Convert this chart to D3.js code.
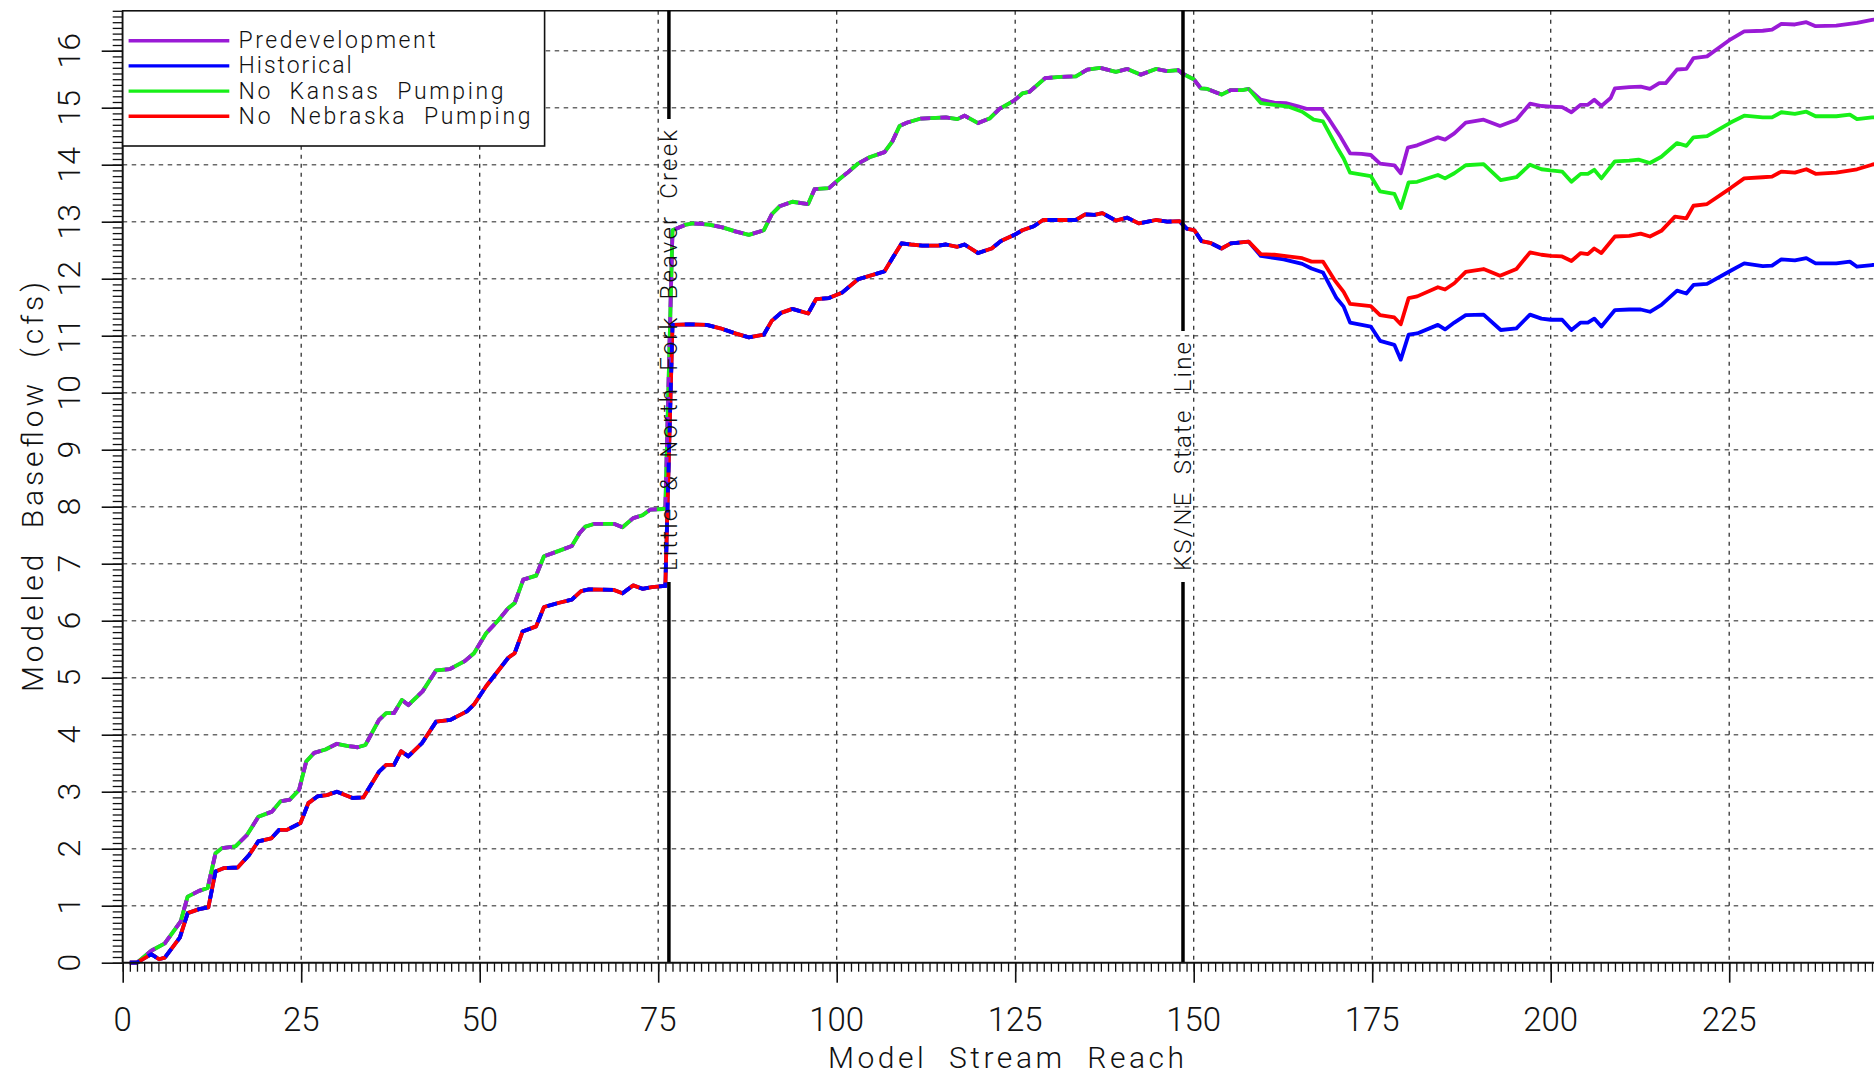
<!DOCTYPE html>
<html><head><meta charset="utf-8">
<script src="https://cdn.jsdelivr.net/npm/d3@7"></script>
<style>
body{margin:0;background:#fff}
svg{display:block}
text{font-family:Roboto,"DejaVu Sans",sans-serif;font-weight:300;fill:#111;white-space:pre}
</style>
</head><body>
<svg id="chart" width="1874" height="1076"></svg>
<script>
// ---------------- data ----------------
const seriesNames  = ["Predevelopment", "Historical", "No  Kansas  Pumping", "No  Nebraska  Pumping"];
const seriesColors = ["#9a1ad6", "#0000ff", "#18f018", "#ff0000"];
const xTickValues  = [0, 25, 50, 75, 100, 125, 150, 175, 200, 225];
const yTickValues  = [0, 1, 2, 3, 4, 5, 6, 7, 8, 9, 10, 11, 12, 13, 14, 15, 16];
const markerReaches = [76.5, 148.5];
const markerLabels  = ["Little  &  North  Fork  Beaver  Creek", "KS/NE  State  Line"];

// upstream reaches where Predevelopment == No Kansas Pumping
const upperSharedX = [1,2,4,5.9,8.1,9.1,10.7,11.9,13,13.9,15.8,17.4,19,20.9,22.1,23.4,24.7,25.7,26.8,28.4,30,31.6,32.9,34,35.9,36.9,38,39.1,40,42,43.9,45.8,47.9,49.2,50.9,52.7,54,54.9,56.1,57.9,59,61,62.9,64,64.8,66.1,68.8,70,71.5,72.8,73.9,75.7,76,77,78.9,79.9,82.1,84,85.8,87.7,89.8,90.9,92,93.8,96,96.9,98.9,100.3,101.6,103,104.6,106.7,107.8,108.8,109.9,111.8,115.3,116.9,117.9,119.8,121.4,122.8,124.9,126,127,129.2,131.3,133.5,135.1,136.9,139.1,140.7,142.6,144.7,146.3,147.8,148.4,150,151,151.9,153.9,155.2,156.8,157.7];
const upperSharedY = [0,0,0.21,0.34,0.72,1.16,1.26,1.31,1.92,2.01,2.04,2.24,2.56,2.65,2.83,2.86,3.03,3.53,3.68,3.74,3.84,3.8,3.78,3.82,4.26,4.38,4.38,4.61,4.52,4.76,5.13,5.15,5.29,5.43,5.78,6.02,6.22,6.31,6.72,6.79,7.13,7.22,7.31,7.54,7.65,7.7,7.7,7.64,7.8,7.85,7.95,7.96,7.97,12.85,12.95,12.97,12.95,12.9,12.83,12.77,12.85,13.13,13.27,13.35,13.31,13.57,13.59,13.74,13.87,14.02,14.13,14.22,14.41,14.68,14.74,14.81,14.83,14.8,14.86,14.73,14.81,14.98,15.13,15.25,15.28,15.52,15.54,15.55,15.67,15.7,15.63,15.68,15.58,15.68,15.64,15.66,15.6,15.5,15.34,15.33,15.23,15.31,15.31,15.33];

// upstream reaches where Historical == No Nebraska Pumping
const lowerSharedX = [1,2,4,5.1,5.9,8,9.1,10.7,12,13,14.2,16.1,17.7,19,20.8,21.9,23,24.9,26,27.3,28.6,30,32.2,33.7,35.9,36.9,38,39,40,41.9,43.9,45.9,48.2,49.2,50.9,52.7,54,54.9,56,57.9,59,61,62.9,64.2,65.3,68.8,70,71.5,72.8,74.1,76,77,79.4,81.8,83.7,85.8,87.7,89.8,90.9,92.2,93.8,96,97.1,98.9,100.8,103,104.6,106.7,107.8,109.1,110.4,112,114.2,115.3,116.9,117.9,119.8,121.7,123,124.9,126,127.6,128.9,131.3,133.5,134.8,136.1,137.2,139.1,140.7,142.3,144.7,146.3,148,149,150.1,151.1,152.3,153.9,155.2,157.7];
const lowerSharedY = [0,0,0.15,0.06,0.09,0.44,0.87,0.94,0.97,1.6,1.66,1.67,1.89,2.13,2.18,2.33,2.33,2.45,2.8,2.92,2.94,3,2.89,2.9,3.35,3.47,3.47,3.71,3.62,3.85,4.23,4.26,4.41,4.53,4.85,5.14,5.35,5.43,5.81,5.9,6.24,6.31,6.37,6.52,6.55,6.54,6.48,6.62,6.56,6.59,6.61,11.19,11.2,11.19,11.13,11.04,10.97,11.02,11.26,11.4,11.47,11.39,11.64,11.66,11.76,11.99,12.05,12.13,12.36,12.62,12.6,12.58,12.58,12.6,12.56,12.6,12.45,12.53,12.66,12.77,12.85,12.92,13.03,13.03,13.03,13.13,13.12,13.15,13.02,13.07,12.97,13.03,13,13.01,12.88,12.85,12.66,12.63,12.53,12.62,12.65];

// downstream tails
const predTailX = [159.4,161.3,162.9,164.5,165.8,167.9,169,170.6,171.9,173.5,174.8,176.1,178.1,179,180,181.3,184.2,185.2,186.5,188.1,190.6,192.9,195.2,197.1,198.7,200,201.6,202.9,204.2,205.2,206.1,207.1,208.4,209,211,212.6,213.9,215.2,216.1,217.7,219,220,221.9,225.2,227.1,229.7,231,232.3,234.2,235.8,237.1,240,242.9,245,247];
const predTailY = [15.14,15.09,15.08,15.03,14.98,14.98,14.79,14.48,14.2,14.19,14.17,14.02,13.99,13.85,14.3,14.34,14.48,14.44,14.55,14.74,14.79,14.68,14.79,15.07,15.03,15.02,15.01,14.92,15.05,15.05,15.14,15.03,15.17,15.34,15.36,15.37,15.33,15.43,15.43,15.67,15.68,15.87,15.9,16.2,16.34,16.35,16.37,16.47,16.46,16.5,16.43,16.44,16.49,16.54,16.58];

const noKsTailX = [159.4,161.3,163.2,165.2,166.8,168.1,170,171,171.9,174.8,176.1,178.1,179,180.1,181.3,184.2,185.2,186.5,188.1,190.6,193,195.2,197.1,198.7,200,201.6,202.9,204.2,205.2,206.1,207.1,209,211,212.3,213.9,215.5,217.7,219,220,221.9,225.2,227.1,229.7,231,232.3,234.2,235.8,237.1,240,241.9,242.9,245,247];
const noKsTailY = [15.08,15.05,15.02,14.93,14.79,14.76,14.32,14.11,13.86,13.8,13.53,13.49,13.24,13.69,13.7,13.82,13.76,13.85,13.99,14.01,13.73,13.78,14,13.92,13.9,13.88,13.7,13.84,13.84,13.91,13.76,14.06,14.07,14.09,14.03,14.14,14.38,14.33,14.48,14.5,14.74,14.86,14.83,14.83,14.92,14.89,14.93,14.85,14.85,14.88,14.8,14.83,14.84];

const histTailX = [159.4,162.6,165.2,166.5,168.1,170,171,171.9,174.8,176.1,178.1,179,180.1,181.3,184.2,185.2,186.5,188.1,190.6,193,195.2,197.1,198.7,200,201.6,202.9,204.2,205.2,206.1,207.1,209,211,212.6,213.9,215.5,217.7,219,220,221.9,225.2,227.1,229.7,231,232.3,234.2,235.8,237.1,240,241.9,242.9,245,247];
const histTailY = [12.4,12.34,12.26,12.18,12.11,11.66,11.51,11.23,11.16,10.91,10.84,10.58,11.02,11.04,11.19,11.11,11.23,11.36,11.37,11.1,11.13,11.37,11.3,11.28,11.28,11.1,11.23,11.23,11.3,11.16,11.45,11.46,11.46,11.42,11.54,11.79,11.74,11.89,11.91,12.14,12.27,12.22,12.23,12.34,12.32,12.36,12.27,12.27,12.3,12.21,12.24,12.25];

const noNeTailX = [159.4,161.3,163.2,165.2,166.5,168.1,169.7,171,171.9,174.8,176.1,178.1,179,180.1,181.3,184.2,185.2,186.5,188.1,190.6,192.9,195.2,197.1,198.7,200,201.6,202.9,204.2,205.2,206.1,207.1,209,211,212.6,213.9,215.5,217.4,219,220,221.9,225.2,227.1,229.7,231,232.3,234.2,235.8,237.1,240,242.9,245,247];
const noNeTailY = [12.43,12.42,12.39,12.36,12.3,12.3,11.98,11.77,11.56,11.52,11.36,11.32,11.2,11.66,11.69,11.85,11.81,11.92,12.12,12.17,12.05,12.17,12.46,12.42,12.4,12.39,12.31,12.45,12.43,12.53,12.45,12.74,12.75,12.79,12.74,12.84,13.09,13.06,13.28,13.31,13.59,13.76,13.78,13.79,13.88,13.86,13.92,13.84,13.86,13.92,14,14.05];

// ---------------- build ----------------
const zip = (xa, ya) => xa.map((v, i) => ({x: v, y: ya[i]}));
const upperShared = zip(upperSharedX, upperSharedY);
const lowerShared = zip(lowerSharedX, lowerSharedY);
const series = [
  upperShared.concat(zip(predTailX, predTailY)),
  lowerShared.concat(zip(histTailX, histTailY)),
  upperShared.concat(zip(noKsTailX, noKsTailY)),
  lowerShared.concat(zip(noNeTailX, noNeTailY))
];

const X0 = 122.7, PXU = 7.14, Y0 = 962.7, PYU = 57.0;
const xMax = 247.5, yMax = 16.7;
const xs = d3.scaleLinear().domain([0, xMax]).range([X0, X0 + xMax * PXU]);
const ys = d3.scaleLinear().domain([0, yMax]).range([Y0, Y0 - yMax * PYU]);

const svg = d3.select("#chart");
const pTop = ys(yMax), pBottom = ys(0), pLeft = xs(0), pRight = xs(xMax);

// grid
svg.append("g").selectAll("line").data(yTickValues.filter(d => d > 0)).join("line")
  .attr("x1", pLeft).attr("x2", pRight).attr("y1", d => ys(d)).attr("y2", d => ys(d))
  .attr("stroke", "#6a6a6a").attr("stroke-width", 1.6).attr("stroke-dasharray", "4.5,4.5");
svg.append("g").selectAll("line").data(xTickValues.filter(d => d > 0)).join("line")
  .attr("x1", d => xs(d)).attr("x2", d => xs(d)).attr("y1", pTop).attr("y2", pBottom)
  .attr("stroke", "#333").attr("stroke-width", 1.3).attr("stroke-dasharray", "4,5");

// top frame
svg.append("line").attr("x1", pLeft).attr("x2", pRight).attr("y1", pTop).attr("y2", pTop)
  .attr("stroke", "#111").attr("stroke-width", 1.6);

// data lines
const line = d3.line().x(d => xs(d.x)).y(d => ys(d.y));
[0, 1, 2, 3].forEach(i => {
  svg.append("path").datum(series[i]).attr("d", line)
    .attr("fill", "none").attr("stroke", seriesColors[i]).attr("stroke-width", 3.8)
    .attr("stroke-linejoin", "round");
});
// shared segments drawn dashed so both coincident series show
svg.append("path").datum(upperShared).attr("d", line).attr("fill", "none")
  .attr("stroke", seriesColors[0]).attr("stroke-width", 3.8).attr("stroke-dasharray", "10,10");
svg.append("path").datum(lowerShared).attr("d", line).attr("fill", "none")
  .attr("stroke", seriesColors[1]).attr("stroke-width", 3.8).attr("stroke-dasharray", "10,10");

// marker lines with rotated labels
const markerTextBottom = 571, markerFont = 24;
const markerLengths = [441, 229];
markerReaches.forEach((r, i) => {
  const mx = xs(r);
  const textTop = markerTextBottom - markerLengths[i];
  svg.append("line").attr("x1", mx).attr("x2", mx).attr("y1", pTop).attr("y2", textTop - 11)
    .attr("stroke", "#000").attr("stroke-width", 3.5);
  svg.append("line").attr("x1", mx).attr("x2", mx).attr("y1", markerTextBottom + 11).attr("y2", pBottom)
    .attr("stroke", "#000").attr("stroke-width", 3.5);
  svg.append("text").attr("transform", `translate(${mx + 8.5},${markerTextBottom}) rotate(-90)`)
    .attr("font-size", markerFont).attr("font-weight", 400)
    .attr("textLength", markerLengths[i]).attr("lengthAdjust", "spacing")
    .text(markerLabels[i]);
});

// axes
const xMinor = d3.range(0, Math.floor(xMax) + 1);
svg.append("g").attr("transform", `translate(0,${pBottom})`)
  .call(d3.axisBottom(xs).tickValues(xMinor).tickSize(9).tickFormat(""))
  .call(g => g.select(".domain").remove())
  .call(g => g.selectAll("line").attr("stroke", "#111").attr("stroke-width", 1.3));
svg.append("g").attr("transform", `translate(0,${pBottom})`)
  .call(d3.axisBottom(xs).tickValues(xTickValues).tickSize(20).tickFormat(""))
  .call(g => g.select(".domain").remove())
  .call(g => g.selectAll("line").attr("stroke", "#111").attr("stroke-width", 1.6));
svg.append("g").selectAll("text").data(xTickValues).join("text")
  .attr("x", d => xs(d)).attr("y", 1031).attr("text-anchor", "middle")
  .attr("font-size", 33).text(d => d);

const yMinor = d3.range(0, Math.round(yMax * 10) + 1).map(d => d / 10);
svg.append("g").attr("transform", `translate(${pLeft},0)`)
  .call(d3.axisLeft(ys).tickValues(yMinor).tickSize(10).tickFormat(""))
  .call(g => g.select(".domain").remove())
  .call(g => g.selectAll("line").attr("stroke", "#111").attr("stroke-width", 1.3));
svg.append("g").attr("transform", `translate(${pLeft},0)`)
  .call(d3.axisLeft(ys).tickValues(yTickValues).tickSize(21).tickFormat(""))
  .call(g => g.select(".domain").remove())
  .call(g => g.selectAll("line").attr("stroke", "#111").attr("stroke-width", 1.6));
svg.append("g").selectAll("text").data(yTickValues).join("text")
  .attr("transform", d => `translate(80,${ys(d)}) rotate(-90)`).attr("text-anchor", "middle")
  .attr("font-size", 32).text(d => d);

// axis lines
svg.append("line").attr("x1", pLeft).attr("x2", pRight).attr("y1", pBottom).attr("y2", pBottom)
  .attr("stroke", "#111").attr("stroke-width", 2);
svg.append("line").attr("x1", pLeft).attr("x2", pLeft).attr("y1", pTop).attr("y2", pBottom)
  .attr("stroke", "#111").attr("stroke-width", 2);

// axis titles
svg.append("text").attr("x", 1006).attr("y", 1068).attr("text-anchor", "middle")
  .attr("font-size", 30).attr("textLength", 356).attr("lengthAdjust", "spacing")
  .text("Model  Stream  Reach");
svg.append("text").attr("transform", `translate(43,${487}) rotate(-90)`).attr("text-anchor", "middle")
  .attr("font-size", 30).attr("textLength", 410).attr("lengthAdjust", "spacing")
  .text("Modeled  Baseflow  (cfs)");

// legend
const legend = svg.append("g");
legend.append("rect").attr("x", pLeft).attr("y", pTop).attr("width", 544.6 - pLeft).attr("height", 146 - pTop)
  .attr("fill", "#fff").attr("stroke", "#111").attr("stroke-width", 1.6);
const legendLen = [197, 113, 265, 292];
seriesNames.forEach((n, i) => {
  const ly = 40.7 + i * 25.2;
  legend.append("line").attr("x1", 128.6).attr("x2", 229.3).attr("y1", ly).attr("y2", ly)
    .attr("stroke", seriesColors[i]).attr("stroke-width", 3.4);
  legend.append("text").attr("x", 238.6).attr("y", ly + 7.5).attr("font-size", 23)
    .attr("font-weight", 400)
    .attr("textLength", legendLen[i]).attr("lengthAdjust", "spacing").text(n);
});
</script>
</body></html>
